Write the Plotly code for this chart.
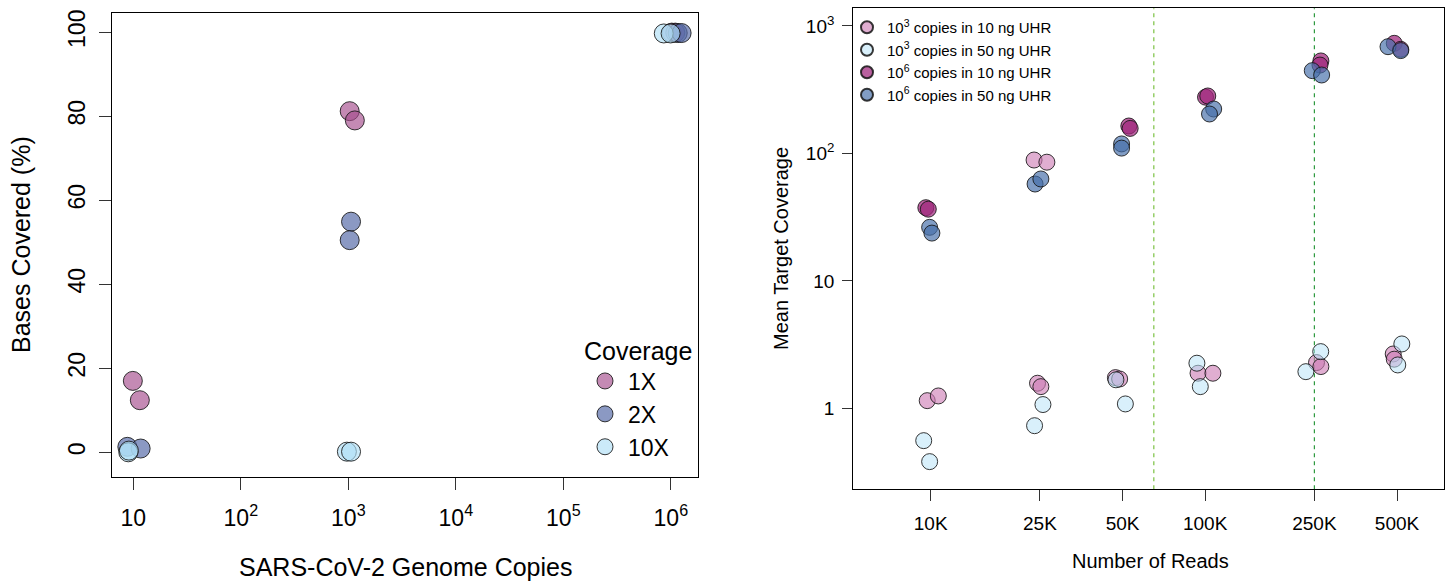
import plotly.graph_objects as go

# ---------------- Left panel data ----------------
copies_tickvals = [10, 100, 1000, 10000, 100000, 1000000]
copies_ticktext = ["10", "10<sup>2</sup>", "10<sup>3</sup>", "10<sup>4</sup>", "10<sup>5</sup>", "10<sup>6</sup>"]
pct_tickvals = [0, 20, 40, 60, 80, 100]

cov1x_copies = [9.9, 11.5, 1030, 1150, 1.02e6, 1.1e6]
cov1x_pct = [17.0, 12.4, 81.2, 79.0, 99.9, 99.9]
cov2x_copies = [8.8, 11.7, 1060, 1030, 1.16e6, 1.26e6]
cov2x_pct = [1.3, 0.9, 54.9, 50.5, 99.8, 99.8]
cov10x_copies = [8.98, 9.1, 970, 1060, 8.6e5, 9.95e5]
cov10x_pct = [0.0, 0.4, 0.15, 0.15, 99.7, 99.7]

# ---------------- Right panel data ----------------
reads_tickvals = [10000, 25000, 50000, 100000, 250000, 500000]
reads_ticktext = ["10K", "25K", "50K", "100K", "250K", "500K"]
cov_tickvals = [1, 10, 100, 1000]
cov_ticktext = ["1", "10", "10<sup>2</sup>", "10<sup>3</sup>"]

c3_10_reads = [9710, 10660, 24500, 25200, 47100, 48800, 94200, 106700, 254500, 264000, 484300, 488600]
c3_10_cov = [1.149, 1.251, 1.574, 1.48, 1.742, 1.70, 1.886, 1.886, 2.286, 2.127, 2.67, 2.43]
c3_50_reads = [9430, 9910, 25640, 23900, 47300, 51200, 93300, 96000, 263600, 232800, 520600, 503200]
c3_50_cov = [0.558, 0.382, 1.071, 0.731, 1.675, 1.083, 2.26, 1.48, 2.786, 1.94, 3.20, 2.19]
c6_10_reads = [9600, 9800, 23800, 26500, 52700, 53300, 100300, 102200, 264000, 262000, 488600, 516000]
c6_10_cov = [37.5, 36.5, 88.7, 85.3, 164, 157, 276, 282, 531, 493, 730, 655]
c6_50_reads = [9910, 10100, 24000, 25200, 49600, 49600, 107400, 103700, 245600, 265700, 463600, 516000]
c6_50_cov = [26.3, 23.7, 57.5, 63, 118.6, 110, 222.9, 203.7, 445.6, 412, 687, 640]

threshold_reads = [65000, 250000]

# ---------------- styles ----------------
FONT = "Liberation Sans, Arial, Helvetica, sans-serif"
EDGE = dict(color="rgba(20,20,20,0.85)", width=1)
col_1x = "rgba(165,75,140,0.65)"
col_2x = "rgba(90,110,170,0.70)"
col_10x = "rgba(175,222,246,0.65)"
col_c3_10 = "rgba(205,125,180,0.62)"
col_c3_50 = "rgba(185,228,248,0.55)"
col_c6_10 = "rgba(160,40,125,0.74)"
col_c6_50 = "rgba(70,110,170,0.68)"
c6_10_point_colors = [col_c6_10, col_c6_10, col_c3_10, col_c3_10] + [col_c6_10] * 8
threshold_colors = ["#7cc242", "#2f9a40"]

fig = go.Figure()

for name, xs, ys, col in [("1X", cov1x_copies, cov1x_pct, col_1x),
                          ("2X", cov2x_copies, cov2x_pct, col_2x),
                          ("10X", cov10x_copies, cov10x_pct, col_10x)]:
    fig.add_trace(go.Scatter(x=xs, y=ys, mode="markers", name=name,
                             marker=dict(size=19, color=col, line=EDGE),
                             xaxis="x", yaxis="y", legend="legend2"))

for name, xs, ys, col in [("10<sup>3</sup> copies in 10 ng UHR", c3_10_reads, c3_10_cov, col_c3_10),
                          ("10<sup>3</sup> copies in 50 ng UHR", c3_50_reads, c3_50_cov, col_c3_50),
                          ("10<sup>6</sup> copies in 10 ng UHR", c6_10_reads, c6_10_cov, col_c6_10),
                          ("10<sup>6</sup> copies in 50 ng UHR", c6_50_reads, c6_50_cov, col_c6_50)]:
    mcol = c6_10_point_colors if xs is c6_10_reads else col
    fig.add_trace(go.Scatter(x=xs, y=ys, mode="markers", name=name,
                             marker=dict(size=16, color=mcol, line=EDGE),
                             xaxis="x2", yaxis="y2", legend="legend"))

for xv, c in zip(threshold_reads, threshold_colors):
    fig.add_shape(type="line", xref="x2", yref="y2 domain", x0=xv, x1=xv, y0=0, y1=1,
                  line=dict(color=c, width=1.2, dash="4px,4px"), layer="below")

axis_common = dict(showline=True, mirror=True, linecolor="black", linewidth=1.2,
                   ticks="outside", tickcolor="#333", tickwidth=1, showgrid=False,
                   zeroline=False, automargin=False)

fig.update_layout(
    width=1446, height=581,
    margin=dict(l=0, r=0, t=0, b=0),
    paper_bgcolor="white", plot_bgcolor="white",
    font=dict(family=FONT, color="black"),
    xaxis=dict(domain=[0.07725, 0.4825], type="log", range=[0.799, 6.25],
               tickvals=copies_tickvals, ticktext=copies_ticktext, ticklen=12,
               ticklabelstandoff=8, tickfont=dict(size=23), anchor="y", **axis_common),
    yaxis=dict(domain=[0.17849, 0.97711], range=[-5.95, 104.5],
               tickvals=pct_tickvals, ticklen=12, tickangle=-90,
               ticklabelstandoff=4, tickfont=dict(size=23), anchor="x", **axis_common),
    xaxis2=dict(domain=[0.59012, 0.99896], type="log", range=[3.718, 5.872],
                tickvals=reads_tickvals, ticktext=reads_ticktext, ticklen=11,
                ticklabelstandoff=6, tickfont=dict(size=19), anchor="y2", **axis_common),
    yaxis2=dict(domain=[0.15783, 0.98571], type="log", range=[-0.635, 3.138],
                tickvals=cov_tickvals, ticktext=cov_ticktext, ticklen=10,
                ticklabelstandoff=4, tickfont=dict(size=19), anchor="x2", **axis_common),
    legend=dict(x=847 / 1446, y=1 - 11 / 581, xanchor="left", yanchor="top",
                bgcolor="rgba(0,0,0,0)", font=dict(size=15, family=FONT),
                itemsizing="constant", tracegroupgap=0),
    legend2=dict(x=582 / 1446, y=1 - 327 / 581, xanchor="left", yanchor="top",
                 bgcolor="rgba(0,0,0,0)", font=dict(size=23, family=FONT),
                 title=dict(text="Coverage", font=dict(size=25, family=FONT)),
                 itemsizing="trace", itemwidth=36),
    showlegend=True,
    annotations=[
        dict(text="SARS-CoV-2 Genome Copies", xref="paper", yref="paper",
             x=405 / 1446, y=1 - 567 / 581, showarrow=False, font=dict(size=25),
             xanchor="center", yanchor="middle"),
        dict(text="Bases Covered (%)", xref="paper", yref="paper",
             x=21 / 1446, y=1 - 245 / 581, showarrow=False, font=dict(size=25),
             textangle=-90, xanchor="center", yanchor="middle"),
        dict(text="Number of Reads", xref="paper", yref="paper",
             x=1150 / 1446, y=1 - 561 / 581, showarrow=False, font=dict(size=20),
             xanchor="center", yanchor="middle"),
        dict(text="Mean Target Coverage", xref="paper", yref="paper",
             x=781 / 1446, y=1 - 249 / 581, showarrow=False, font=dict(size=20),
             textangle=-90, xanchor="center", yanchor="middle"),
    ],
)

fig.write_html("out.html", config={"displayModeBar": False},
               post_script="document.body.style.margin='0px';document.body.style.overflow='hidden';")
